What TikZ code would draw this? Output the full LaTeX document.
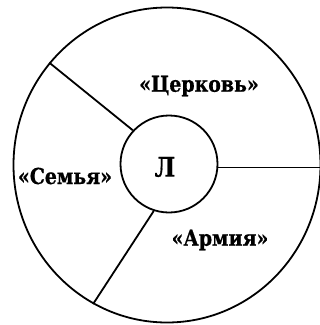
\documentclass[tikz,border=0pt]{standalone}
\usepackage{fontspec}
\setmainfont{DejaVu Serif}
\newfontfamily\labelfont[FakeStretch=0.86, FakeBold=0.6]{DejaVu Serif Bold}
\usetikzlibrary{shapes.geometric}

\begin{document}
\begin{tikzpicture}[
    x=1pt, y=-1pt,
    ring/.style={draw, ellipse, line width=1.8pt, inner sep=0pt},
    core/.style={draw, circle, line width=1.8pt, inner sep=0pt, minimum size=97pt},
    spoke/.style={line width=1.8pt},
    label/.style={font=\labelfont\fontsize{22}{25}\selectfont, inner sep=0pt}
]
\useasboundingbox (0,0) rectangle (320,325);

\node[ring, minimum width=307pt, minimum height=315pt] (outer) at (167,165) {};
\node[core, font=\labelfont\fontsize{27}{30}\selectfont] (lich) at (169,164) {};
\node[font=\labelfont\fontsize{27}{30}\selectfont, inner sep=0pt] (letter) at (165,167) {Л};

\draw[spoke] (lich.137) -- (outer.139);
\draw[spoke] (lich.252) -- (outer.242);
\draw[spoke] (lich.-4) -- (lich.-4 -| outer.east);

\node[label] (church) at (199,86) {«Церковь»};
\node[label] (family) at (65,176) {«Семья»};
\node[label] (army) at (220,240) {«Армия»};

\end{tikzpicture}
\end{document}
